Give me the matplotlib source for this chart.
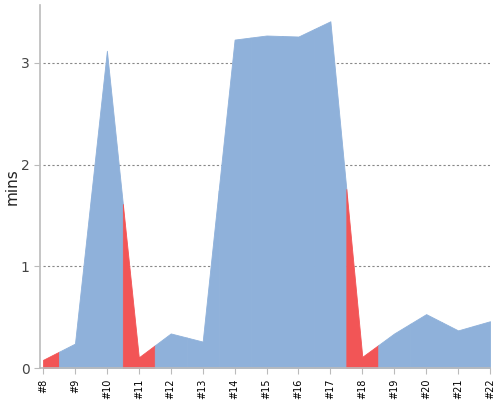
import numpy as np
import matplotlib
matplotlib.use("Agg")
import matplotlib.pyplot as plt

labels = ["#8", "#9", "#10", "#11", "#12", "#13", "#14", "#15", "#16", "#17",
          "#18", "#19", "#20", "#21", "#22"]
values = [0.08, 0.24, 3.12, 0.105, 0.34, 0.26, 3.23, 3.27, 3.26, 3.41,
          0.11, 0.34, 0.53, 0.37, 0.46]
flagged = [True, False, False, True, False, False, False, False, False, False,
           True, False, False, False, False]

BLUE = "#8fb1da"
RED = "#f25556"

x = np.arange(8, 8 + len(values))
y = np.array(values, dtype=float)

fig = plt.figure(figsize=(5, 4), dpi=100)
ax = fig.add_axes([0.08, 0.08, 0.90, 0.9075])

for i, xi in enumerate(x):
    lo = max(xi - 0.5, x[0])
    hi = min(xi + 0.5, x[-1])
    seg = [lo] + [p for p in x if lo < p < hi] + [hi]
    segx = np.array(seg, dtype=float)
    segy = np.interp(segx, x, y)
    ax.fill_between(segx, 0, segy, color=RED if flagged[i] else BLUE,
                    linewidth=0.6, edgecolor=RED if flagged[i] else BLUE, zorder=2)

ax.set_xlim(8 - 0.095, 22)
ax.set_ylim(0, 3.57)
ax.set_xticks(x)
ax.set_xticklabels(labels, rotation=90, fontsize=7, color="black")
ax.set_yticks([0, 1, 2, 3])
ax.set_yticklabels(["0", "1", "2", "3"], fontsize=10, color="#444444")
for v in [1, 2, 3]:
    ax.hlines(v, x[0], x[-1], colors="#888888", linestyles=(0, (2, 2)), linewidth=0.8, zorder=1)

for s in ["top", "right"]:
    ax.spines[s].set_visible(False)
for s in ["left", "bottom"]:
    ax.spines[s].set_color("#bbbbbb")
    ax.spines[s].set_linewidth(1.2)
ax.tick_params(axis="both", colors="#bbbbbb", length=4)
for t in ax.get_xticklabels():
    t.set_color("black")
for t in ax.get_yticklabels():
    t.set_color("#444444")
ax.set_ylabel("mins", fontsize=11, color="#222222")
ax.yaxis.set_label_coords(-0.046, 0.5)

fig.savefig("out.png", dpi=100)
